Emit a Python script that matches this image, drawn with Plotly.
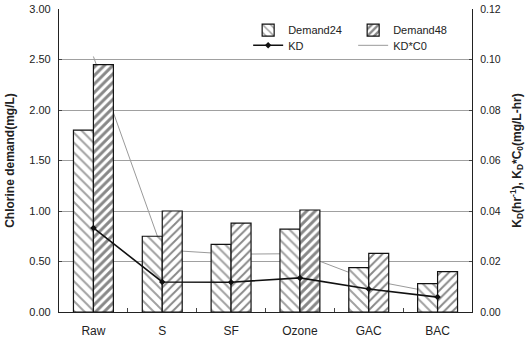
import plotly.graph_objects as go

categories = ["Raw", "S", "SF", "Ozone", "GAC", "BAC"]
demand24 = [1.80, 0.75, 0.67, 0.82, 0.44, 0.28]
demand48 = [2.45, 1.00, 0.88, 1.01, 0.58, 0.40]
kd = [0.0333, 0.0119, 0.0118, 0.0135, 0.0091, 0.0059]
kd_c0 = [0.1012, 0.0246, 0.0229, 0.0231, 0.0127, 0.0075]

left_ticks = [0, 0.5, 1.0, 1.5, 2.0, 2.5, 3.0]
right_ticks = [0, 0.02, 0.04, 0.06, 0.08, 0.10, 0.12]

d48_solidity = [0.5, 0.32, 0.32, 0.5, 0.32, 0.32]

FONT = "Liberation Sans Narrow, Liberation Sans, Arial, sans-serif"

fig = go.Figure()

# KD*C0 thin grey line (drawn beneath the bars)
fig.add_trace(go.Scatter(
    x=categories, y=kd_c0, name="KD*C0", mode="lines",
    line=dict(color="#9a9a9a", width=1),
    xaxis="x", yaxis="y", legend="legend2", legendrank=2,
))

fig.add_trace(go.Bar(
    x=categories, y=demand24, name="Demand24",
    marker=dict(color="white", line=dict(color="#111", width=1.2),
                pattern=dict(shape="\\", size=7, solidity=0.28,
                             fgcolor="#444", bgcolor="white", fillmode="overlay")),
    xaxis="x", yaxis="y2", legend="legend", legendrank=1,
))
fig.add_trace(go.Bar(
    x=categories, y=demand48, name="Demand48",
    marker=dict(color="white", line=dict(color="#111", width=1.2),
                pattern=dict(shape="/", size=6, solidity=d48_solidity,
                             fgcolor="#111", bgcolor="white", fillmode="overlay")),
    xaxis="x", yaxis="y2", legend="legend", legendrank=2,
))

fig.add_trace(go.Scatter(
    x=categories, y=kd, name="KD", mode="lines+markers",
    line=dict(color="#111", width=1.6),
    marker=dict(symbol="diamond", size=5, color="#111"),
    xaxis="x", yaxis="y3", legend="legend2", legendrank=1,
))

fig.update_layout(
    width=529, height=342,
    margin=dict(l=59, r=57, t=9, b=30, autoexpand=False),
    paper_bgcolor="white", plot_bgcolor="white",
    font=dict(family=FONT, size=11, color="#222"),
    barmode="group", bargap=0.42, bargroupgap=0,
    showlegend=True,
    xaxis=dict(
        showline=True, linecolor="#222", linewidth=1.2,
        ticks="inside", tickson="boundaries", ticklen=4, tickcolor="#444",
        tickfont=dict(size=12, family=FONT), ticklabelstandoff=7,
        showgrid=False, fixedrange=True,
    ),
    yaxis=dict(range=[0, 0.12], visible=False, showgrid=False),
    yaxis2=dict(
        overlaying="y", side="left", range=[0, 3.0],
        tickvals=left_ticks, tickformat=".2f",
        showgrid=True, gridcolor="#a0a0a0", gridwidth=1,
        showline=True, linecolor="#222", linewidth=1.2,
        ticks="inside", ticklen=3, tickcolor="#444", ticklabelstandoff=5,
        zeroline=False,
        tickfont=dict(size=11, family=FONT),
        title=dict(text="<b>Chlorine demand(mg/L)</b>",
                   font=dict(size=12, family="Liberation Sans, Arial, sans-serif"),
                   standoff=12),
    ),
    yaxis3=dict(
        overlaying="y", side="right", range=[0, 0.12],
        tickvals=right_ticks, tickformat=".2f",
        showgrid=False,
        showline=True, linecolor="#222", linewidth=1.2,
        ticks="inside", ticklen=3, tickcolor="#444", ticklabelstandoff=5,
        zeroline=False,
        tickfont=dict(size=10.5, family=FONT),
        title=dict(text="<b>K<sub>D</sub>(hr<sup>-1</sup>), K<sub>D</sub>*C<sub>0</sub>(mg/L-hr)</b>",
                   font=dict(size=12, family="Liberation Sans, Arial, sans-serif"),
                   standoff=12),
    ),
    legend=dict(
        orientation="h", x=0.458, y=0.978, xanchor="left", yanchor="top",
        entrywidth=60, entrywidthmode="pixels",
        bgcolor="rgba(255,255,255,0)", borderwidth=0,
        font=dict(size=11, family=FONT), itemwidth=30,
        tracegroupgap=0,
    ),
    legend2=dict(
        orientation="h", x=0.458, y=0.928, xanchor="left", yanchor="top",
        entrywidth=60, entrywidthmode="pixels",
        bgcolor="rgba(255,255,255,0)", borderwidth=0,
        font=dict(size=11, family=FONT), itemwidth=30,
    ),
)

fig.write_html("out.html", config={"displayModeBar": False},
               post_script="document.body.style.margin='0px';")
